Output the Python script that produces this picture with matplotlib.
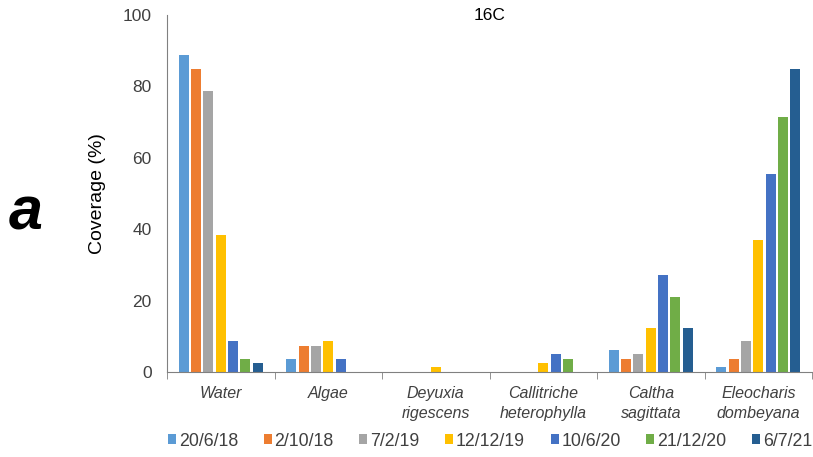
import matplotlib
matplotlib.use("Agg")
import matplotlib.pyplot as plt
import numpy as np
from matplotlib.patches import Patch

plt.rcParams['font.family'] = ['Liberation Sans', 'DejaVu Sans']

categories = ["Water", "Algae", "Deyuxia\nrigescens", "Callitriche\nheterophylla",
              "Caltha\nsagittata", "Eleocharis\ndombeyana"]
dates = ["20/6/18", "2/10/18", "7/2/19", "12/12/19", "10/6/20", "21/12/20", "6/7/21"]
s_20_6_18 = [88.8, 3.7, 0, 0, 6.3, 1.3]
s_2_10_18 = [85.0, 7.3, 0, 0, 3.7, 3.7]
s_7_2_19 = [78.8, 7.3, 0, 0, 5.0, 8.6]
s_12_12_19 = [38.3, 8.6, 1.3, 2.4, 12.3, 37.1]
s_10_6_20 = [8.6, 3.7, 0, 5.0, 27.1, 55.5]
s_21_12_20 = [3.7, 0, 0, 3.7, 21.0, 71.4]
s_6_7_21 = [2.4, 0, 0, 0, 12.3, 85.0]
series = [s_20_6_18, s_2_10_18, s_7_2_19, s_12_12_19, s_10_6_20, s_21_12_20, s_6_7_21]
colors = ["#5B9BD5", "#ED7D31", "#A5A5A5", "#FFC000", "#4472C4", "#70AD47", "#255E91"]

txt = "#404040"
fig = plt.figure(figsize=(8.13, 4.57), dpi=100)
ax = fig.add_axes([167/813, 1-372/457, (812-167)/813, (372-15)/457])

x = np.arange(len(categories))
pitch = 0.115
width = 0.093
for i, (vals, c) in enumerate(zip(series, colors)):
    ax.bar(x + (i - 3) * pitch, vals, width=width, color=c, label=dates[i])

ax.set_xlim(-0.5, len(categories) - 0.5)
ax.set_ylim(0, 100)
ax.set_yticks([0, 20, 40, 60, 80, 100])
ax.tick_params(axis='y', length=0, labelsize=12.5, colors=txt, pad=11)
ax.set_xticks(x)
ax.set_xticklabels(categories, fontsize=11.5, style='italic', color=txt, linespacing=1.45)
ax.tick_params(axis='x', length=0, pad=10)
ax.set_xticks(np.arange(-0.5, len(categories), 1), minor=True)
ax.tick_params(axis='x', which='minor', length=5, color='#808080', direction='out')
for s in ['top', 'right']:
    ax.spines[s].set_visible(False)
ax.spines['left'].set_color('#808080')
ax.spines['bottom'].set_color('#808080')
ax.set_ylabel("Coverage (%)", fontsize=14, color='black', labelpad=12)
ax.text(2.5, 100, "16C", ha='center', va='center', fontsize=12.5, color='black')
fig.text(26/813, 1-214/457, "a", fontsize=44, fontweight='bold', style='italic',
         ha='center', va='center', color='black')

handles = [Patch(facecolor=c, edgecolor='none') for c in colors]
fig.legend(handles, dates, loc='center', bbox_to_anchor=(490/813, 1-441/457), ncol=7,
           frameon=False, fontsize=12.8, handlelength=0.45, handleheight=0.45,
           handletextpad=0.15, columnspacing=1.45, labelcolor=txt)

fig.savefig("out.png", dpi=100)
